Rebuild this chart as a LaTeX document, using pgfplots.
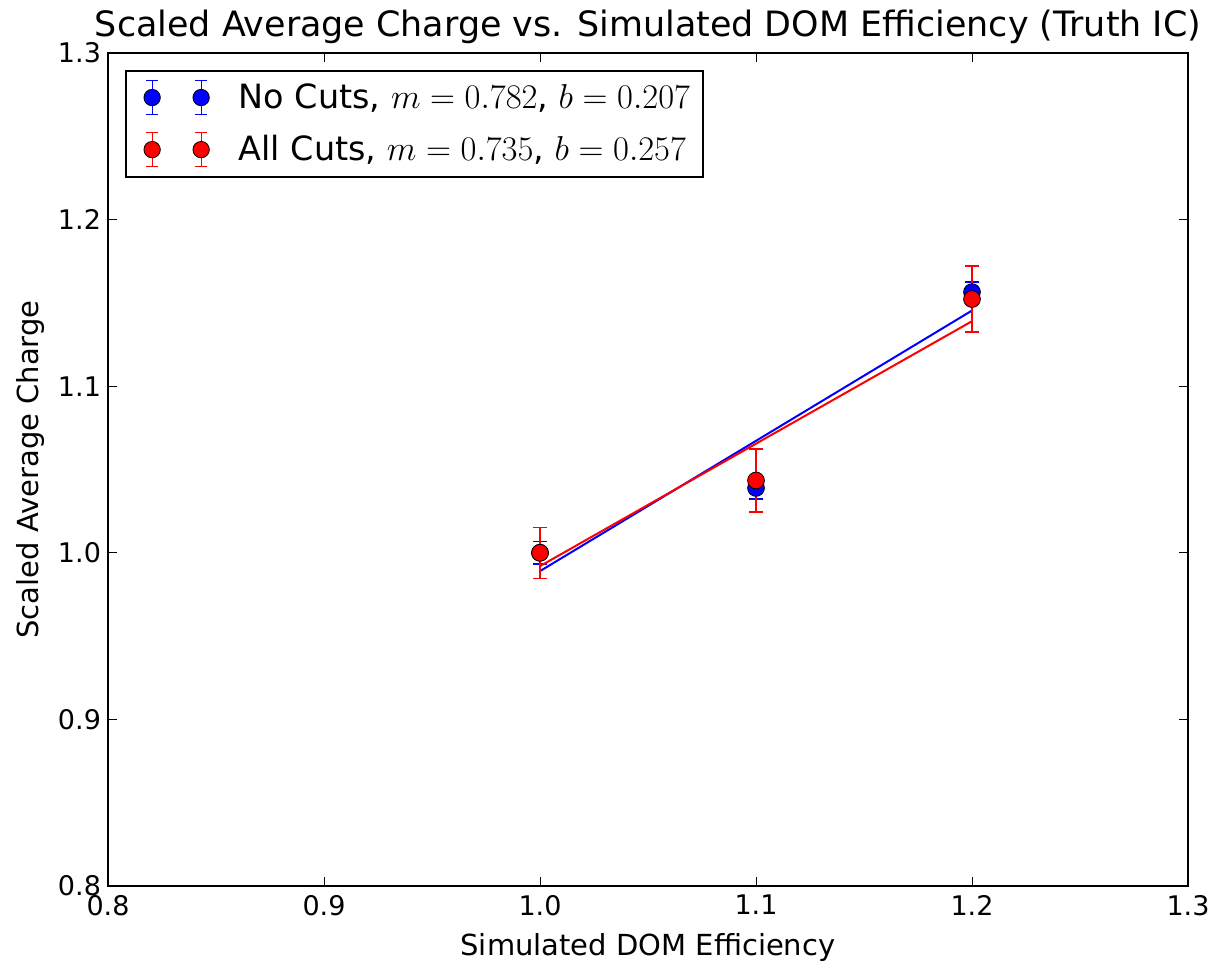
\documentclass[border=0pt]{standalone}
\usepackage{pgfplots}
\pgfplotsset{compat=1.18}
\usepackage{fontspec}
\setmainfont{DejaVu Sans}
\begin{document}
\begin{tikzpicture}
\begin{axis}[
  scale only axis,
  width=540pt, height=416.5pt,
  xmin=0.8, xmax=1.3, ymin=0.8, ymax=1.3,
  xtick={0.8,0.9,...,1.3}, ytick={0.8,0.9,...,1.3},
  xticklabel style={yshift=-1pt, /pgf/number format/.cd,fixed,fixed zerofill,precision=1},
  yticklabel style={/pgf/number format/.cd,fixed,fixed zerofill,precision=1},
  /pgf/number format/assume math mode=true,
  tick align=inside, tick pos=both,
  major tick length=4.7pt,
  tick style={black, line width=0.5pt},
  axis line style={line width=1pt},
  ticklabel style={font=\fontsize{13.5}{15}\selectfont},
  xlabel={Simulated DOM Efficiency},
  ylabel={Scaled Average Charge},
  label style={font=\fontsize{14.5}{17}\selectfont},
  xlabel style={yshift=-2pt},
  title={Scaled Average Charge vs. Simulated DOM Efficiency (Truth IC)},
  title style={font=\fontsize{17.45}{20}\selectfont, yshift=-5pt},
  legend style={at={(0.0155,0.98)}, anchor=north west, draw=black, line width=1pt,
    font=\fontsize{16.7}{19}\selectfont, row sep=8pt, inner sep=4.5pt},
  legend cell align=left,
]
\addplot[only marks, blue, mark=*, mark size=4.2pt, mark options={fill=blue, draw=black, line width=0.4pt},
  legend image code/.code={
    \path[draw=none] (0pt,0pt) -- (50pt,0pt);
    \foreach \xx in {8.7pt,33.2pt}{
      \draw[blue, line width=0.6pt] ([xshift=\xx]0,-8.5pt) -- ([xshift=\xx]0,8.5pt);
      \draw[blue, line width=0.6pt] ([xshift=\xx-3pt]0,-8.5pt) -- ([xshift=\xx+3pt]0,-8.5pt);
      \draw[blue, line width=0.6pt] ([xshift=\xx-3pt]0,8.5pt) -- ([xshift=\xx+3pt]0,8.5pt);
      \fill[blue, draw=black, line width=0.4pt] ([xshift=\xx]0,0) circle (4.1pt);
    }},
  error bars/.cd, y dir=both, y explicit, error mark=-, error mark options={blue, rotate=90, mark size=3.5pt, line width=0.6pt}, error bar style={blue, line width=0.6pt},
  ] coordinates {
  (1.0,1.0) +- (0,0.0067)
  (1.1,1.0389) +- (0,0.0066)
  (1.2,1.1565) +- (0,0.006)
};
\addlegendentry{No Cuts, $m=0.782$, $b=0.207$}
\addplot[blue, line width=1pt, forget plot] coordinates {(1.0,0.989) (1.2,1.1454)};
\addplot[only marks, red, mark=*, mark size=4.2pt, mark options={fill=red, draw=black, line width=0.4pt},
  legend image code/.code={
    \path[draw=none] (0pt,0pt) -- (50pt,0pt);
    \foreach \xx in {8.7pt,33.2pt}{
      \draw[red, line width=0.6pt] ([xshift=\xx]0,-8.5pt) -- ([xshift=\xx]0,8.5pt);
      \draw[red, line width=0.6pt] ([xshift=\xx-3pt]0,-8.5pt) -- ([xshift=\xx+3pt]0,-8.5pt);
      \draw[red, line width=0.6pt] ([xshift=\xx-3pt]0,8.5pt) -- ([xshift=\xx+3pt]0,8.5pt);
      \fill[red, draw=black, line width=0.4pt] ([xshift=\xx]0,0) circle (4.1pt);
    }},
  error bars/.cd, y dir=both, y explicit, error mark=-, error mark options={red, rotate=90, mark size=3.5pt, line width=0.6pt}, error bar style={red, line width=0.6pt},
  ] coordinates {
  (1.0,1.0) +- (0,0.0154)
  (1.1,1.0434) +- (0,0.0189)
  (1.2,1.1523) +- (0,0.0198)
};
\addlegendentry{All Cuts, $m=0.735$, $b=0.257$}
\addplot[red, line width=1pt, forget plot] coordinates {(1.0,0.992) (1.2,1.139)};
\end{axis}
\pgfresetboundingbox
\path[use as bounding box] ([shift={(-54pt,-40pt)}]current axis.south west) rectangle ([shift={(14.5pt,26.5pt)}]current axis.north east);
\end{tikzpicture}
\end{document}
